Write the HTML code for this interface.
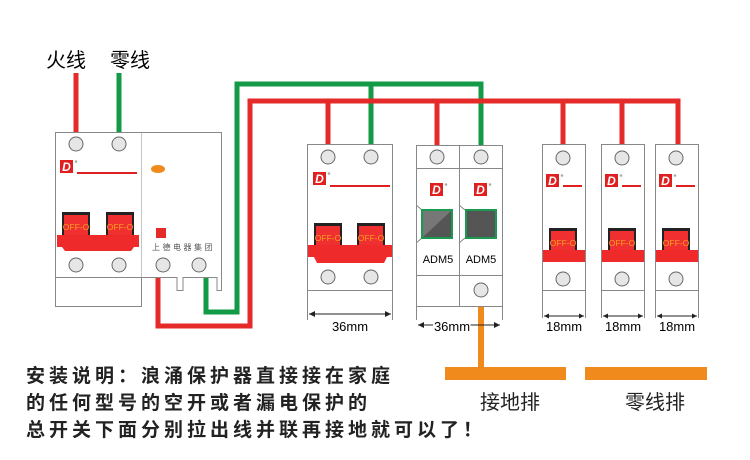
<!DOCTYPE html>
<html><head><meta charset="utf-8"><style>
body{margin:0;background:#fff}
svg{display:block}
text{font-family:"Liberation Sans","Noto Sans CJK SC",sans-serif}
</style></head><body>
<svg width="750" height="460" viewBox="0 0 750 460" xmlns="http://www.w3.org/2000/svg">
<defs>
<g id="logo"><rect x="0" y="0" width="13" height="13" fill="#e02020"/><text x="6.5" y="11" font-size="12" font-weight="bold" font-style="italic" fill="#fff" text-anchor="middle">D</text><circle cx="16" cy="1.5" r="1.3" fill="#aaa"/></g>
<g id="term"><circle r="7" fill="#e6e6e6" stroke="#666" stroke-width="1"/></g>
<g id="h1"><rect x="-14" y="-23" width="28" height="23" fill="#222"/><rect x="-12" y="-20" width="24" height="20" fill="#f03030"/><text x="0" y="-5" font-size="8.5" fill="#f8a020" text-anchor="middle">OFF-O</text></g>
</defs>

<!-- labels -->
<text x="46" y="67" font-size="20">火线</text>
<text x="110" y="67" font-size="20">零线</text>

<!-- wires -->
<g fill="none" stroke-width="5">
<path d="M76 73V140" stroke="#e52a2a"/>
<path d="M119 73V140" stroke="#129a46"/>
<path d="M206 278V312H237V84H481V150M371 84V150" stroke="#129a46"/>
<path d="M158 278V326H250V101H678V150M328 101V150M437 101V150M563 101V150M622 101V150" stroke="#e52a2a"/>
<path d="M481 296V378" stroke="#f08a1c" stroke-width="6"/>
</g>
<rect x="445" y="367" width="121" height="13" fill="#f08a1c"/>
<rect x="585" y="367" width="122" height="13" fill="#f08a1c"/>

<!-- left device -->
<g stroke="#888" stroke-width="1" fill="none">
<rect x="55.5" y="132.5" width="86" height="174" fill="#fff"/>
<line x1="55" y1="277.5" x2="141" y2="277.5"/>
<path d="M141.5 132.5H221.5V290.5H217V277.5H183V290.5H177V277.5H141.5" fill="#fff"/>
</g>
<use href="#term" x="76" y="144"/><use href="#term" x="119" y="144"/>
<use href="#logo" x="60" y="160"/>
<line x1="77" y1="173" x2="137" y2="173" stroke="#e02020" stroke-width="2"/>
<use href="#h1" x="76" y="235"/><use href="#h1" x="120" y="235"/>
<path d="M57 235H139V247H134L131 251H65L62 247H57Z" fill="#ee2a2a"/>
<use href="#term" x="76" y="265"/><use href="#term" x="119" y="265"/>
<ellipse cx="158" cy="169" rx="7" ry="4" fill="#f08a1c"/>
<rect x="156" y="228" width="10" height="10" fill="#e52a2a"/>
<text x="152" y="250" font-size="8" fill="#555" letter-spacing="2.5">上德电器集团</text>
<use href="#term" x="163" y="265"/><use href="#term" x="199" y="265"/>

<!-- 36mm MCB -->
<g stroke="#888" stroke-width="1" fill="none">
<rect x="307.5" y="144.5" width="85" height="146" fill="#fff"/>
<path d="M307.5 290V320M392.5 290V320"/>
</g>
<use href="#term" x="328" y="157"/><use href="#term" x="371" y="157"/>
<use href="#logo" x="313" y="172"/>
<line x1="330" y1="186" x2="390" y2="186" stroke="#e02020" stroke-width="2"/>
<use href="#h1" x="328" y="246"/><use href="#h1" x="371" y="246"/>
<path d="M308 245H392V257H387L384 263H317L314 257H308Z" fill="#ee2a2a"/>
<use href="#term" x="328" y="277"/><use href="#term" x="371" y="277"/>
<path d="M309 314H391" stroke="#222" stroke-width="1"/>
<path d="M309 314l6-3v6zM391 314l-6-3v6z" fill="#222"/>
<text x="350" y="331" font-size="13" text-anchor="middle">36mm</text>

<!-- SPD -->
<g stroke="#888" stroke-width="1" fill="none">
<rect x="416.5" y="145.5" width="86" height="161" fill="#fff"/>
<path d="M459.5 145V306M416 168.5H502M416 275.5H502M416.5 306V320M502.5 306V320"/>
<path d="M416 205l6 5M416 243l6-5M459 205l6 5M459 243l6-5"/>
</g>
<use href="#term" x="437" y="157"/><use href="#term" x="481" y="157"/>
<use href="#logo" x="430" y="183"/><use href="#logo" x="474" y="183"/>
<rect x="422" y="210" width="30" height="28" fill="#555" stroke="#1a9a50" stroke-width="2"/>
<path d="M423 211H451L423 237Z" fill="#777"/>
<rect x="466" y="210" width="30" height="28" fill="#555" stroke="#1a9a50" stroke-width="2"/>
<text x="438" y="263" font-size="11" text-anchor="middle">ADM5</text>
<text x="481" y="263" font-size="11" text-anchor="middle">ADM5</text>
<use href="#term" x="481" y="290"/>
<path d="M418 325H500" stroke="#222"/>
<path d="M418 325l6-3v6zM500 325l-6-3v6z" fill="#222"/>
<text x="452" y="331" font-size="13" text-anchor="middle" fill="#000" stroke="#fff" stroke-width="3" paint-order="stroke">36mm</text>

<!-- 18mm modules -->
<g id="m18">
<g stroke="#888" stroke-width="1" fill="none">
<rect x="542.5" y="144.5" width="43" height="146" fill="#fff"/>
<path d="M542.5 290V318M585.5 290V318"/>
</g>
<use href="#term" x="563" y="158"/>
<use href="#logo" x="546" y="174"/>
<line x1="563" y1="186" x2="582" y2="186" stroke="#e02020" stroke-width="2"/>
<use href="#h1" x="563" y="251"/>
<rect x="543" y="250" width="42" height="12" fill="#ee2a2a"/>
<use href="#term" x="563" y="279"/>
<path d="M544 316H584" stroke="#222"/>
<path d="M544 316l5-2.5v5zM584 316l-5-2.5v5z" fill="#222"/>
<text x="564" y="331" font-size="13" text-anchor="middle">18mm</text>
</g>
<use href="#m18" x="59" y="0"/>
<use href="#m18" x="113" y="0"/>

<!-- bottom text -->
<g font-size="19" font-weight="bold" fill="#222" letter-spacing="4">
<text x="26" y="382">安装说明：浪涌保护器直接接在家庭</text>
<text x="26" y="409">的任何型号的空开或者漏电保护的</text>
<text x="26" y="436">总开关下面分别拉出线并联再接地就可以了！</text>
</g>
<text x="480" y="409" font-size="20" fill="#222">接地排</text>
<text x="625" y="409" font-size="20" fill="#222">零线排</text>
</svg>
</body></html>
